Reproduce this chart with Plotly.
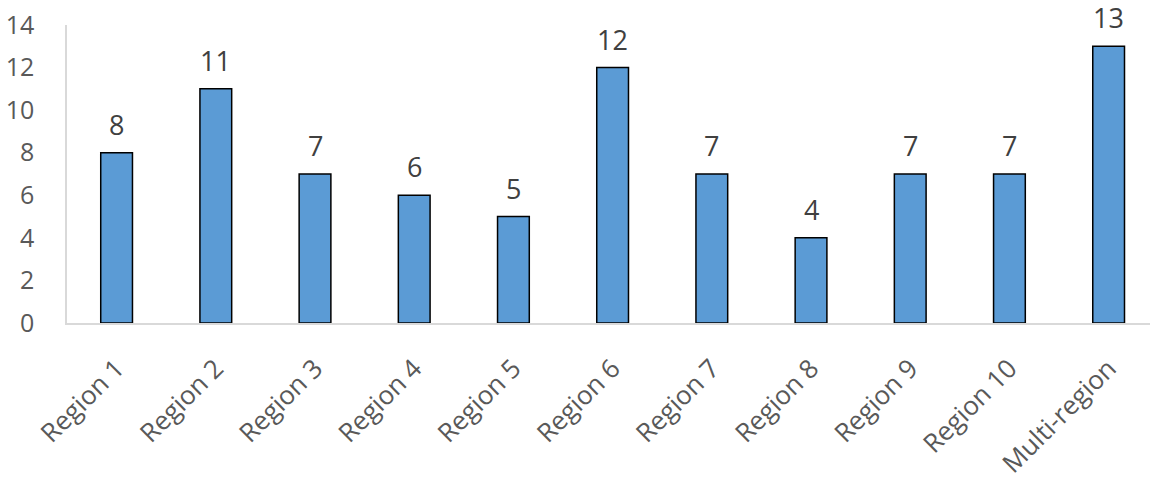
import plotly.graph_objects as go

categories = ["Region 1", "Region 2", "Region 3", "Region 4", "Region 5", "Region 6",
              "Region 7", "Region 8", "Region 9", "Region 10", "Multi-region"]
values = [8, 11, 7, 6, 5, 12, 7, 4, 7, 7, 13]
y_ticks = [0, 2, 4, 6, 8, 10, 12, 14]

FONT = "Open Sans, Liberation Sans, Arial, sans-serif"

fig = go.Figure()
fig.add_trace(go.Bar(
    x=categories, y=values,
    width=0.32,
    marker=dict(color="#5B9BD5", line=dict(color="#000000", width=1.5)),
    hoverinfo="skip",
))

for c, v in zip(categories, values):
    fig.add_annotation(x=c, y=v, text=str(v), showarrow=False, yanchor="bottom",
                       yshift=9, borderpad=0,
                       font=dict(family=FONT, size=27, color="#404040"))

fig.update_layout(
    width=1150, height=480,
    margin=dict(l=67, r=0, t=25, b=157),
    paper_bgcolor="white", plot_bgcolor="white",
    showlegend=False,
    font=dict(family=FONT, color="#595959"),
    xaxis=dict(
        range=[-0.5, 10.417], automargin=False,
        showline=True, linecolor="#d9d9d9", linewidth=1.5,
        showgrid=False, ticks="", tickangle=-45,
        tickfont=dict(family=FONT, size=26, color="#595959"),
        ticklabelstandoff=18,
    ),
    yaxis=dict(
        range=[0, 14], tickvals=y_ticks, automargin=False,
        showline=True, linecolor="#d9d9d9", linewidth=1.5,
        showgrid=False, zeroline=False, ticks="",
        tickfont=dict(family=FONT, size=25, color="#595959"),
        ticklabelstandoff=26,
    ),
)

fig.write_html("out.html", config={"displayModeBar": False},
               post_script="document.body.style.margin='0';")
